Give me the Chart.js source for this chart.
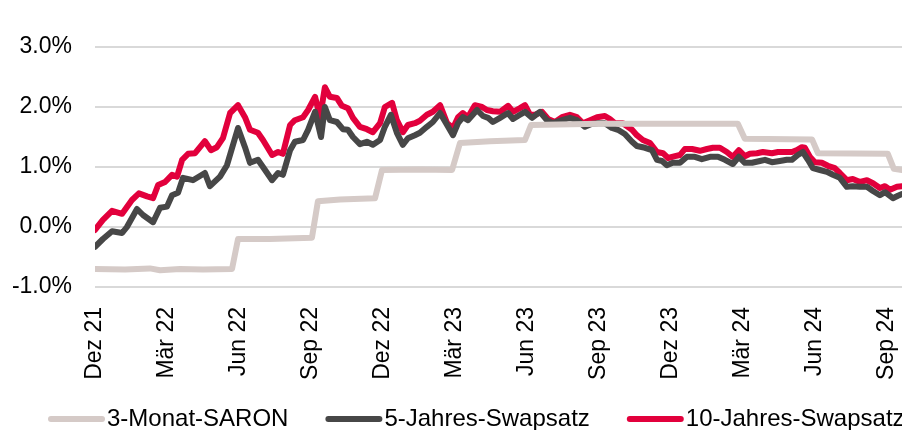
<!DOCTYPE html>
<html>
<head>
<meta charset="utf-8">
<script src="https://cdn.jsdelivr.net/npm/chart.js@4/dist/chart.umd.min.js"></script>
<style>
  html, body { margin: 0; padding: 0; background: #fff; }
  #wrap { width: 902px; height: 430px; position: relative; }
</style>
</head>
<body>
<div id="wrap"><canvas id="chart"></canvas></div>
<script>
// time axis: months since Dez 21
const tickMonths = [0, 3, 6, 9, 12, 15, 18, 21, 24, 27, 30, 33];
const tickLabels = ['Dez 21', 'Mär 22', 'Jun 22', 'Sep 22', 'Dez 22', 'Mär 23', 'Jun 23', 'Sep 23', 'Dez 23', 'Mär 24', 'Jun 24', 'Sep 24'];

const seriesNames = ['3-Monat-SARON', '5-Jahres-Swapsatz', '10-Jahres-Swapsatz'];

const saronMonths = [0, 1.25, 2.29, 2.71, 3.54, 4.5, 5.71, 5.96, 7.29, 9.04, 9.29, 10.21, 11.67, 11.96, 13.54, 14.88, 15.21, 16.46, 17.92, 18.17, 21.04, 25.21, 26.79, 27.08, 29.88, 30.13, 33.04, 33.29, 33.63];
const saronVals = [-0.70, -0.71, -0.69, -0.72, -0.70, -0.71, -0.70, -0.20, -0.20, -0.18, 0.43, 0.46, 0.48, 0.95, 0.96, 0.95, 1.40, 1.43, 1.45, 1.70, 1.72, 1.72, 1.72, 1.47, 1.46, 1.23, 1.22, 0.97, 0.95];

const swap5Months = [0, 0.33, 0.71, 1.13, 1.33, 1.75, 2.0, 2.42, 2.71, 3.0, 3.21, 3.46, 3.67, 4.08, 4.58, 4.79, 5.21, 5.5, 5.96, 6.25, 6.46, 6.79, 7.0, 7.38, 7.63, 7.83, 8.13, 8.33, 8.67, 8.88, 9.17, 9.42, 9.58, 9.79, 10.08, 10.33, 10.54, 10.75, 11.04, 11.33, 11.58, 11.88, 12.08, 12.33, 12.58, 12.83, 13.04, 13.33, 13.54, 13.83, 14.08, 14.38, 14.63, 14.92, 15.13, 15.33, 15.54, 15.92, 16.17, 16.38, 16.58, 16.88, 17.21, 17.42, 17.71, 17.92, 18.21, 18.54, 18.83, 19.08, 19.46, 19.79, 20.08, 20.42, 20.71, 20.96, 21.25, 21.54, 21.79, 22.08, 22.38, 22.58, 22.92, 23.21, 23.42, 23.63, 23.83, 24.08, 24.38, 24.67, 25.0, 25.29, 25.63, 25.96, 26.25, 26.58, 26.83, 27.08, 27.38, 27.71, 27.92, 28.21, 28.54, 28.83, 29.04, 29.29, 29.5, 29.71, 29.92, 30.21, 30.5, 30.75, 31.04, 31.33, 31.58, 31.88, 32.17, 32.42, 32.71, 32.92, 33.25, 33.46, 33.63];
const swap5Vals = [-0.33, -0.20, -0.07, -0.10, 0.00, 0.30, 0.20, 0.08, 0.32, 0.34, 0.53, 0.57, 0.82, 0.78, 0.90, 0.68, 0.84, 1.03, 1.65, 1.33, 1.07, 1.12, 1.00, 0.78, 0.90, 0.87, 1.28, 1.42, 1.45, 1.62, 1.92, 1.50, 2.00, 1.78, 1.75, 1.63, 1.62, 1.50, 1.38, 1.42, 1.37, 1.45, 1.67, 1.87, 1.57, 1.37, 1.48, 1.53, 1.57, 1.67, 1.75, 1.90, 1.73, 1.53, 1.73, 1.83, 1.78, 1.95, 1.85, 1.82, 1.75, 1.82, 1.90, 1.80, 1.87, 1.92, 1.82, 1.92, 1.78, 1.73, 1.78, 1.82, 1.78, 1.67, 1.72, 1.73, 1.73, 1.65, 1.62, 1.55, 1.42, 1.35, 1.32, 1.28, 1.12, 1.10, 1.03, 1.07, 1.07, 1.17, 1.17, 1.13, 1.17, 1.17, 1.12, 1.05, 1.17, 1.07, 1.07, 1.10, 1.12, 1.08, 1.10, 1.12, 1.12, 1.20, 1.25, 1.12, 0.98, 0.95, 0.92, 0.87, 0.82, 0.67, 0.68, 0.67, 0.67, 0.60, 0.53, 0.58, 0.48, 0.52, 0.55];

const swap10Months = [0, 0.33, 0.71, 1.13, 1.54, 1.83, 2.17, 2.42, 2.63, 2.92, 3.21, 3.42, 3.63, 3.88, 4.17, 4.58, 4.83, 5.08, 5.33, 5.63, 5.96, 6.25, 6.46, 6.79, 7.0, 7.38, 7.63, 7.83, 8.13, 8.33, 8.67, 8.88, 9.17, 9.38, 9.58, 9.79, 10.08, 10.29, 10.54, 10.75, 11.04, 11.33, 11.58, 11.88, 12.08, 12.38, 12.58, 12.83, 13.04, 13.33, 13.54, 13.83, 14.08, 14.38, 14.67, 14.92, 15.13, 15.33, 15.54, 15.83, 16.13, 16.33, 16.58, 16.88, 17.21, 17.42, 17.71, 17.92, 18.13, 18.33, 18.63, 18.88, 19.17, 19.46, 19.79, 20.08, 20.33, 20.63, 20.92, 21.25, 21.46, 21.67, 22.0, 22.38, 22.58, 22.83, 23.13, 23.42, 23.67, 23.88, 24.17, 24.38, 24.58, 24.88, 25.21, 25.5, 25.75, 26.04, 26.33, 26.58, 26.83, 27.08, 27.29, 27.58, 27.83, 28.21, 28.46, 28.75, 29.04, 29.25, 29.46, 29.58, 29.79, 30.0, 30.29, 30.54, 30.83, 31.04, 31.33, 31.58, 31.88, 32.17, 32.42, 32.71, 32.92, 33.13, 33.42, 33.63];
const swap10Vals = [-0.05, 0.12, 0.27, 0.22, 0.45, 0.56, 0.51, 0.48, 0.70, 0.75, 0.87, 0.84, 1.12, 1.22, 1.23, 1.43, 1.28, 1.33, 1.48, 1.90, 2.03, 1.83, 1.62, 1.57, 1.45, 1.20, 1.25, 1.22, 1.70, 1.78, 1.83, 1.95, 2.17, 1.83, 2.33, 2.17, 2.15, 2.02, 1.98, 1.82, 1.67, 1.63, 1.58, 1.73, 2.00, 2.07, 1.78, 1.58, 1.70, 1.73, 1.77, 1.87, 1.92, 2.03, 1.73, 1.65, 1.83, 1.90, 1.83, 2.03, 2.00, 1.95, 1.93, 1.92, 2.02, 1.92, 1.98, 2.03, 1.87, 1.87, 1.92, 1.80, 1.75, 1.83, 1.87, 1.83, 1.73, 1.78, 1.83, 1.85, 1.80, 1.73, 1.73, 1.62, 1.53, 1.45, 1.40, 1.25, 1.23, 1.15, 1.18, 1.20, 1.30, 1.30, 1.27, 1.30, 1.32, 1.32, 1.25, 1.17, 1.28, 1.18, 1.22, 1.23, 1.25, 1.23, 1.25, 1.25, 1.25, 1.28, 1.33, 1.32, 1.17, 1.08, 1.07, 1.02, 0.98, 0.90, 0.78, 0.80, 0.75, 0.78, 0.73, 0.65, 0.68, 0.62, 0.67, 0.68];

const FONT = 'Liberation Sans, Arial, sans-serif';

function pts(months, vals) {
  return months.map((m, i) => ({ x: m, y: vals[i] }));
}

// legend drawn by hand: line swatch flush against the text, like the original
const lineLegend = {
  id: 'lineLegend',
  afterDraw(chart) {
    const ctx = chart.ctx;
    ctx.save();
    ctx.font = '24px ' + FONT;
    ctx.textBaseline = 'middle';
    ctx.fillStyle = '#000';
    let x = 48;
    const y = 419;
    chart.data.datasets.forEach(ds => {
      ctx.strokeStyle = ds.borderColor;
      ctx.lineWidth = 6;
      ctx.lineCap = 'round';
      ctx.beginPath();
      ctx.moveTo(x + 3, y);
      ctx.lineTo(x + 54, y);
      ctx.stroke();
      ctx.fillText(ds.label, x + 59, y);
      x += 59 + ctx.measureText(ds.label).width + 37;
    });
    ctx.restore();
  }
};

const ctx = document.getElementById('chart').getContext('2d');
new Chart(ctx, {
  type: 'line',
  data: {
    datasets: [
      { label: seriesNames[0], data: pts(saronMonths, saronVals), borderColor: '#d5cac7' },
      { label: seriesNames[1], data: pts(swap5Months, swap5Vals), borderColor: '#474747' },
      { label: seriesNames[2], data: pts(swap10Months, swap10Vals), borderColor: '#e2003c' }
    ]
  },
  options: {
    responsive: true,
    maintainAspectRatio: false,
    animation: false,
    layout: { padding: { top: 47, right: 0, bottom: 0, left: 0 } },
    elements: {
      point: { radius: 0 },
      line: { borderWidth: 6, tension: 0, borderJoinStyle: 'round', borderCapStyle: 'round' }
    },
    plugins: {
      legend: { display: false },
      tooltip: { enabled: false }
    },
    scales: {
      x: {
        type: 'linear',
        min: 0,
        max: 33.63,
        grid: { display: false },
        border: { display: false },
        afterBuildTicks: axis => { axis.ticks = tickMonths.map(v => ({ value: v })); },
        afterFit: axis => {
          axis.height = 143;
          axis.paddingLeft = 0;
          axis.paddingRight = 0;
        },
        ticks: {
          autoSkip: false,
          minRotation: 90,
          maxRotation: 90,
          padding: 12,
          color: '#000',
          font: { family: FONT, size: 23 },
          callback: v => tickLabels[tickMonths.indexOf(v)]
        }
      },
      y: {
        min: -1,
        max: 3,
        afterFit: axis => { axis.width = 95; },
        grid: { color: '#d9d9d9', lineWidth: 2, drawTicks: false },
        border: { display: false },
        ticks: {
          stepSize: 1,
          padding: 23,
          color: '#000',
          font: { family: FONT, size: 23 },
          callback: v => v.toFixed(1) + '%'
        }
      }
    }
  },
  plugins: [lineLegend]
});
</script>
</body>
</html>
